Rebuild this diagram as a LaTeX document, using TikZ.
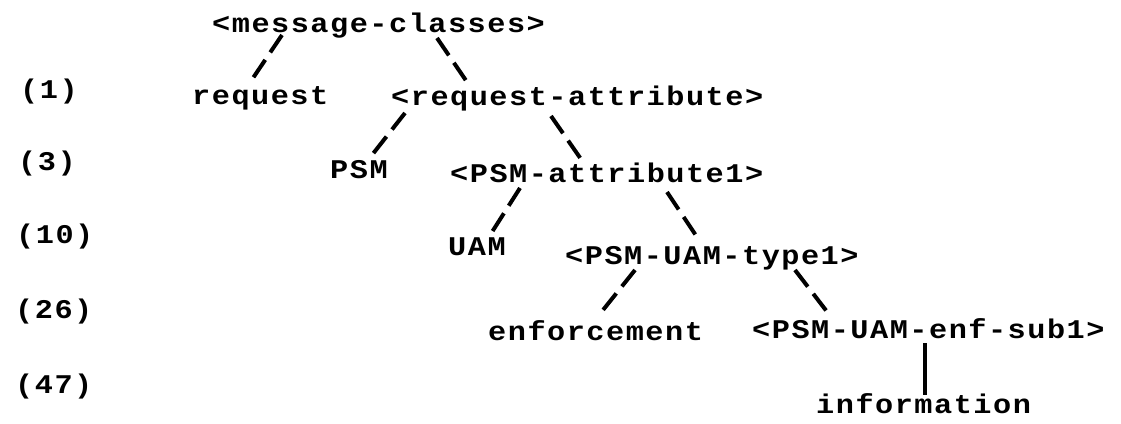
\documentclass[tikz,border=0pt]{standalone}
\usepackage{fontspec}
\newfontfamily\dotfont{Liberation Mono}[FakeStretch=1.12,LetterSpace=5.6]
\begin{document}
\begin{tikzpicture}[x=1pt,y=-1pt,
  lbl/.style={anchor=base west, inner sep=0pt,
    font=\dotfont\bfseries\fontsize{27}{27}\selectfont},
  link/.style={line width=4pt, dash pattern=on 21pt off 9pt on 21pt off 200pt},
  stem/.style={line width=3.2pt}]
\useasboundingbox (0,0) rectangle (1121,423);

% level counters on the left
\node[lbl] (n1)  at (20,98)  {(1)};
\node[lbl] (n3)  at (18,170) {(3)};
\node[lbl] (n10) at (16,243) {(10)};
\node[lbl] (n26) at (15,318) {(26)};
\node[lbl] (n47) at (15,393) {(47)};

% tree nodes
\node[lbl] (mc)  at (212,32)  {<message-classes>};
\node[lbl] (req) at (192,104) {request};
\node[lbl] (ra)  at (391,105) {<request-attribute>};
\node[lbl] (psm) at (330,178) {PSM};
\node[lbl] (pa)  at (450,182) {<PSM-attribute1>};
\node[lbl] (uam) at (448,255) {UAM};
\node[lbl] (ty)  at (565,264) {<PSM-UAM-type1>};
\node[lbl] (enf) at (488,340) {enforcement};
\node[lbl] (sub) at (752,338) {<PSM-UAM-enf-sub1>};
\node[lbl] (inf) at (816,413) {information};

% branches
\draw[link] ([shift={(70,3)}]mc.base west)   -- ([shift={(61,-26)}]req.base west);
\draw[link] ([shift={(225,6)}]mc.base west)  -- ([shift={(76,-23)}]ra.base west);
\draw[link] ([shift={(14,8)}]ra.base west)   -- ([shift={(42,-23)}]psm.base west);
\draw[link] ([shift={(160,11)}]ra.base west) -- ([shift={(133,-20)}]pa.base west);
\draw[link] ([shift={(70,6)}]pa.base west)   -- ([shift={(44,-23)}]uam.base west);
\draw[link] ([shift={(217,10)}]pa.base west) -- ([shift={(132,-27)}]ty.base west);
\draw[link] ([shift={(70,6)}]ty.base west)   -- ([shift={(115,-30)}]enf.base west);
\draw[link] ([shift={(230,6)}]ty.base west)  -- ([shift={(76,-25)}]sub.base west);
\draw[stem] ([shift={(173,5)}]sub.base west) -- ([shift={(109,-18)}]inf.base west);
\end{tikzpicture}
\end{document}
